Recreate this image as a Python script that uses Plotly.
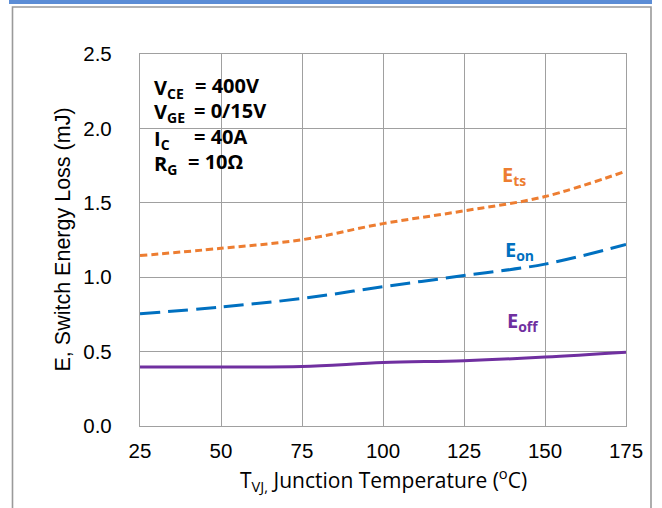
import plotly.graph_objects as go

# ---- data ----
temps = [25, 50, 75, 100, 125, 150, 175]
e_ts = [1.145, 1.194, 1.252, 1.360, 1.446, 1.542, 1.713]
e_on = [0.754, 0.800, 0.857, 0.936, 1.011, 1.088, 1.220]
e_off = [0.396, 0.397, 0.400, 0.426, 0.439, 0.463, 0.496]
x_ticks = [25, 50, 75, 100, 125, 150, 175]
y_ticks = [0.0, 0.5, 1.0, 1.5, 2.0, 2.5]

cond_labels = ["V<sub>CE</sub>", "V<sub>GE</sub>", "I<sub>C</sub>", "R<sub>G</sub>"]
cond_values = ["= 400V", "= 0/15V", "= 40A", "= 10Ω"]

W, H = 662, 508
L, R, T, B = 140, 36, 54, 82
PW, PH = W - L - R, H - T - B


def xp(px):
    return (px - L) / PW


def yp(py):
    return (H - B - py) / PH


GRID = "#A0A0A0"

fig = go.Figure()
fig.add_trace(go.Scatter(x=temps, y=e_off, mode="lines", line_shape="spline",
                         line=dict(color="#7030A0", width=3), showlegend=False))
fig.add_trace(go.Scatter(x=temps, y=e_on, mode="lines", line_shape="spline",
                         line=dict(color="#0070C0", width=3, dash="20px,8px"), showlegend=False))
fig.add_trace(go.Scatter(x=temps, y=e_ts, mode="lines", line_shape="spline",
                         line=dict(color="#ED7D31", width=3, dash="7px,4px"), showlegend=False))

shapes = [
    dict(type="rect", xref="paper", yref="paper", x0=xp(9), x1=xp(652), y0=yp(0), y1=yp(4),
         fillcolor="#5B8DD6", line=dict(width=0), layer="above"),
    dict(type="rect", xref="paper", yref="paper", x0=xp(12.5), x1=xp(651), y0=yp(520), y1=yp(7),
         fillcolor="rgba(0,0,0,0)", line=dict(color="#9A9A9A", width=1.6), layer="above"),
    dict(type="rect", xref="paper", yref="paper", x0=xp(151), x1=xp(273), y0=yp(183), y1=yp(58),
         fillcolor="white", line=dict(width=0), layer="between"),
]

annotations = []
cond_y = [85, 110, 136, 161]
val_x = [193, 192, 192, 186]
FS = 20
for lab, val, py, vx in zip(cond_labels, cond_values, cond_y, val_x):
    annotations.append(dict(xref="paper", yref="paper", x=xp(152), y=yp(py + 3), text=lab,
                            xanchor="left", yanchor="middle", showarrow=False,
                            font=dict(family="Open Sans", size=FS, color="black", weight="bold")))
    annotations.append(dict(xref="paper", yref="paper", x=xp(vx), y=yp(py), text=val,
                            xanchor="left", yanchor="middle", showarrow=False,
                            font=dict(family="Open Sans", size=FS, color="black", weight="bold")))

series_labels = [("E<sub>ts</sub>", 500, 175, "#ED7D31"),
                 ("E<sub>on</sub>", 503, 250, "#0070C0"),
                 ("E<sub>off</sub>", 505, 321, "#7030A0")]
for txt, px, py, col in series_labels:
    annotations.append(dict(xref="paper", yref="paper", x=xp(px), y=yp(py), text=txt,
                            xanchor="left", yanchor="middle", showarrow=False,
                            font=dict(family="Open Sans", size=20, color=col, weight="bold")))

annotations.append(dict(xref="paper", yref="paper", x=xp(62.5), y=0.5, text="E, Switch Energy Loss (mJ)",
                        textangle=-90, xanchor="center", yanchor="middle", showarrow=False,
                        font=dict(family="Liberation Sans", size=21.5, color="black")))
annotations.append(dict(xref="paper", yref="paper", x=0.5, y=yp(479),
                        text="T<sub>VJ,</sub> Junction Temperature (<sup>o</sup>C)",
                        xanchor="center", yanchor="middle", showarrow=False,
                        font=dict(family="Open Sans", size=21, color="black")))

fig.update_layout(
    width=W, height=H,
    margin=dict(l=L, r=R, t=T, b=B, autoexpand=False),
    paper_bgcolor="white", plot_bgcolor="white",
    shapes=shapes, annotations=annotations,
    xaxis=dict(range=[25, 175], tickvals=x_ticks, ticktext=[str(v) for v in x_ticks],
               showgrid=True, gridcolor=GRID, gridwidth=1.3,
               showline=True, linecolor=GRID, linewidth=1.3, mirror=True,
               zeroline=False, ticks="", ticklabelstandoff=6,
               tickfont=dict(family="Liberation Sans", size=20.5, color="black")),
    yaxis=dict(range=[0, 2.5], tickvals=y_ticks, ticktext=[f"{v:.1f}" for v in y_ticks],
               showgrid=True, gridcolor=GRID, gridwidth=1.3,
               showline=True, linecolor=GRID, linewidth=1.3, mirror=True,
               zeroline=False, ticks="", ticklabelstandoff=23,
               tickfont=dict(family="Liberation Sans", size=20.5, color="black")),
)

fig.write_html("out.html")
